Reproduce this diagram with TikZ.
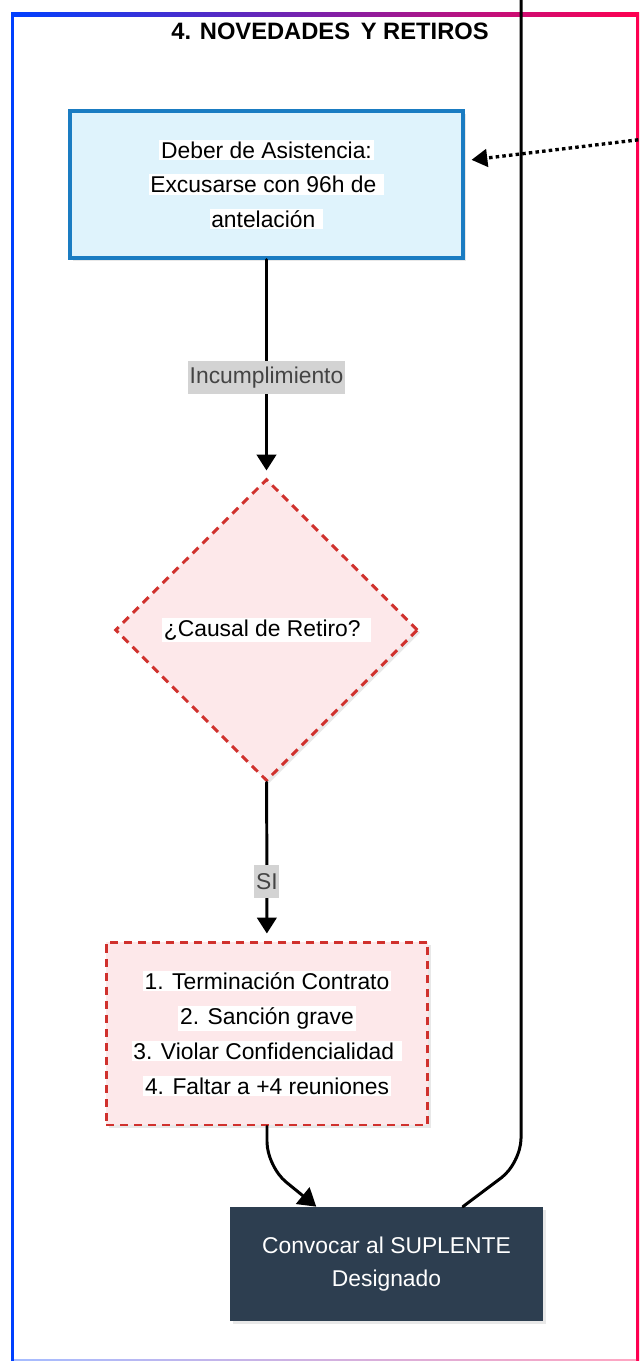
\documentclass[tikz,border=0pt]{standalone}
\usepackage{fontspec}
\setmainfont{Liberation Sans}
\usepackage{xcolor}
\usepackage{tikz}
\usetikzlibrary{arrows.meta,shapes.geometric,shadows}
\definecolor{frameblue}{RGB}{0,64,255}
\definecolor{framered}{RGB}{255,0,80}
\definecolor{dutyfill}{RGB}{223,243,252}
\definecolor{dutyline}{RGB}{26,124,194}
\definecolor{warnfill}{RGB}{253,232,234}
\definecolor{warnline}{RGB}{208,49,45}
\definecolor{darkfill}{RGB}{45,62,80}
\definecolor{tagfill}{RGB}{211,211,211}
\definecolor{tagtext}{RGB}{68,68,68}
\newcommand{\whitebg}[1]{{\setlength{\fboxsep}{1pt}\colorbox{white}{#1}}}

\begin{document}
\begin{tikzpicture}[x=0.02cm, y=-0.02cm,
  shade box/.style={drop shadow={opacity=0.18, shadow xshift=1.5pt, shadow yshift=-1.5pt}},
  duty box/.style={rectangle, draw=dutyline, fill=dutyfill, line width=1.8pt, align=center, shade box, font=\fontsize{13}{19.7}\selectfont},
  warn box/.style={rectangle, draw=warnline, fill=warnfill, line width=1.7pt, dash pattern=on 4.6pt off 3.4pt, align=center, shade box, font=\fontsize{13}{19.9}\selectfont},
  dark box/.style={rectangle, fill=darkfill, text=white, align=center, shade box, font=\fontsize{13}{18.8}\selectfont},
  tag/.style={fill=tagfill, text=tagtext, inner xsep=1pt, inner ysep=0pt, minimum height=0.66cm, font=\fontsize{13}{15}\selectfont},
  wire/.style={line width=1.7pt, line cap=round},
  arrow/.style={wire, -{Triangle[length=9pt,width=11pt]}}]
\useasboundingbox (0,0) rectangle (639,1361);

% frame
\shade[left color=frameblue, right color=framered] (11,13) rectangle (639,1361);
\fill[white] (14,17) rectangle (636,1361);
\shade[left color=frameblue!35, right color=framered!35] (14,1359) rectangle (636,1361);
\node[font=\bfseries\fontsize{13.5}{16}\selectfont] (title) at (330,31) {4. NOVEDADES\hspace{0.45em}Y RETIROS};

% shapes
\node[duty box, minimum width=7.86cm, minimum height=2.94cm] (duty) at (266.5,184.5)
  {\whitebg{Deber de Asistencia:}\\ \whitebg{Excusarse con 96h de }\\ \whitebg{antelación }};
\node[warn box, diamond, minimum width=6.06cm, minimum height=6.04cm, inner sep=0pt] (cause) at (266.5,630)
  {\whitebg{¿Causal de Retiro? }};
\node[warn box, minimum width=6.44cm, minimum height=3.66cm] (grounds) at (267,1033.5)
  {\whitebg{1. Terminación Contrato}\\ \whitebg{2. Sanción grave}\\ \whitebg{3. Violar Confidencialidad }\\ \whitebg{4. Faltar a +4 reuniones}};
\node[dark box, minimum width=6.26cm, minimum height=2.28cm] (substitute) at (386.5,1264)
  {Convocar al SUPLENTE\\ Designado};

\coordinate (feed) at (521,-5);
\coordinate (note) at (645,139);

% connectors
\draw[arrow, shorten >=4pt] (duty) -- node[tag, pos=0.54] {Incumplimiento} (cause);
\draw[arrow, shorten >=4pt] (cause) -- node[tag, pos=0.63] {SI} (grounds);
\draw[arrow, rounded corners=14pt, -{Triangle[length=10pt,width=12pt]}] (grounds.south) -- ++(0,40) -- (substitute);
\draw[wire, rounded corners=14pt] (feed) -- ++(0,1168) -- (substitute);
\draw[line width=1.9pt, dash pattern=on 2pt off 1.8pt, -{Triangle[length=9pt,width=10pt]}, shorten >=4pt] (note) -- (duty);
\end{tikzpicture}
\end{document}
